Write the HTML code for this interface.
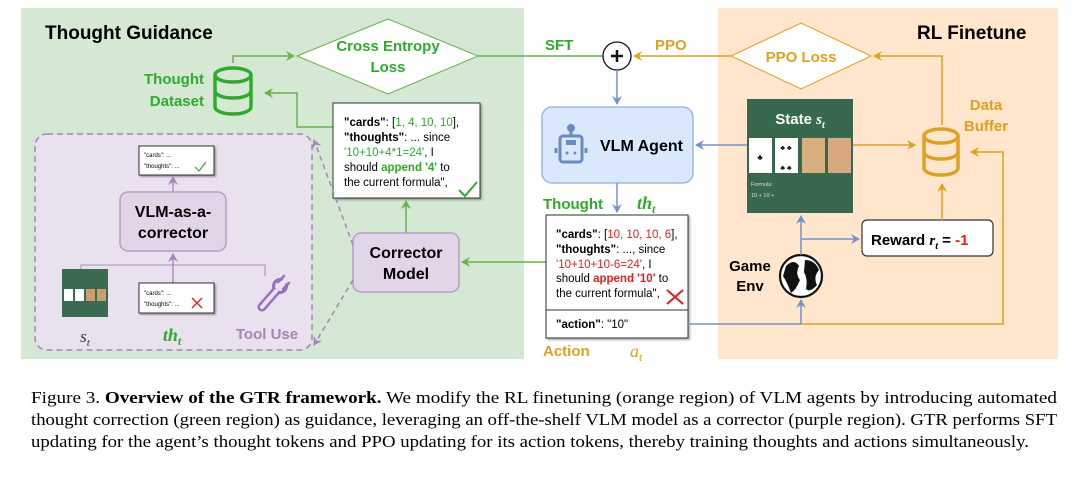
<!DOCTYPE html>
<html><head><meta charset="utf-8"><style>
html,body{margin:0;padding:0;background:#fff}
svg{display:block}
text{font-family:"Liberation Sans",sans-serif}
.b{font-weight:bold}
.serif{font-family:"Liberation Serif",serif}
</style></head><body>
<svg width="1080" height="479" viewBox="0 0 1080 479" xmlns="http://www.w3.org/2000/svg">
<defs>
<marker id="ag" markerWidth="10" markerHeight="10" refX="8" refY="5" orient="auto" markerUnits="userSpaceOnUse"><path d="M0,0 L9,5 L0,10 L3,5 z" fill="#6ab04c"/></marker>
<marker id="ao" markerWidth="10" markerHeight="10" refX="8" refY="5" orient="auto" markerUnits="userSpaceOnUse"><path d="M0,0 L9,5 L0,10 L3,5 z" fill="#e0a020"/></marker>
<marker id="ab" markerWidth="10" markerHeight="10" refX="8" refY="5" orient="auto" markerUnits="userSpaceOnUse"><path d="M0,0 L9,5 L0,10 L3,5 z" fill="#7394c8"/></marker>
<marker id="ap" markerWidth="10" markerHeight="10" refX="8" refY="5" orient="auto" markerUnits="userSpaceOnUse"><path d="M0,0 L9,5 L0,10 L3,5 z" fill="#a485b8"/></marker>
<filter id="sh"><feDropShadow dx="1.5" dy="1.5" stdDeviation="1" flood-opacity="0.35"/></filter>
</defs>
<!-- regions -->
<rect x="21" y="8" width="503" height="351" fill="#d5e8d4"/>
<rect x="718" y="8" width="340" height="351" fill="#ffe6cc"/>
<text x="45" y="39" class="b" font-size="19">Thought Guidance</text>
<text x="917" y="39" class="b" font-size="19">RL Finetune</text>

<!-- Cross entropy diamond -->
<polygon points="297,56 388,19 478,56 388,94" fill="#fff" stroke="#6ab04c" stroke-width="1"/>
<text x="388" y="51" class="b" font-size="15" fill="#2eaa2e" text-anchor="middle">Cross Entropy</text>
<text x="388" y="72" class="b" font-size="15" fill="#2eaa2e" text-anchor="middle">Loss</text>
<text x="204" y="84" class="b" font-size="15" fill="#2eaa2e" text-anchor="end">Thought</text>
<text x="204" y="106" class="b" font-size="15" fill="#2eaa2e" text-anchor="end">Dataset</text>
<!-- db green -->
<g fill="none" stroke="#2eaa2e" stroke-width="3.5">
<ellipse cx="233" cy="75" rx="18" ry="7"/>
<path d="M215,75 V107 A18,7 0 0 0 251,107 V75"/>
<path d="M215,91 A18,7 0 0 0 251,91"/>
</g>
<path d="M233,63 V56 H294" fill="none" stroke="#6ab04c" stroke-width="1.5" marker-end="url(#ag)"/>
<path d="M333,127 H297 V93 H265" fill="none" stroke="#6ab04c" stroke-width="1.5" marker-end="url(#ag)"/>
<path d="M478,56 H613" fill="none" stroke="#6ab04c" stroke-width="1.5" marker-end="url(#ag)"/>
<text x="545" y="50" class="b" font-size="15" fill="#2eaa2e">SFT</text>

<!-- cards box green -->
<rect x="333" y="103" width="147" height="95" fill="#fff" stroke="#333" stroke-width="1" filter="url(#sh)"/>
<g font-size="11.5">
<text x="344" y="126"><tspan class="b">"cards"</tspan>: [<tspan fill="#2eaa2e">1, 4, 10, 10</tspan>],</text>
<text x="344" y="141"><tspan class="b">"thoughts"</tspan>: ... since</text>
<text x="344" y="156" fill="#2eaa2e">'10+10+4*1=24'<tspan fill="#000">, I</tspan></text>
<text x="344" y="171">should <tspan fill="#2eaa2e" class="b">append '4'</tspan> to</text>
<text x="344" y="186">the current formula",</text>
</g>
<path d="M459,190 L465,196 L477,182" fill="none" stroke="#2eaa2e" stroke-width="2"/>

<!-- purple region -->
<rect x="35" y="134" width="277" height="216" rx="12" fill="#eae1ef" stroke="#a485b8" stroke-width="1.5" stroke-dasharray="6,4"/>
<rect x="139" y="146" width="75" height="29" fill="#fff" stroke="#333" filter="url(#sh)"/>
<text x="144" y="157" font-size="6">"cards": ...</text>
<text x="144" y="168" font-size="6">"thoughts": ...</text>
<path d="M195,167 L199,171 L206,162" fill="none" stroke="#2eaa2e" stroke-width="1.2"/>
<path d="M173,192 V177" stroke="#a485b8" stroke-width="1.3" marker-end="url(#ap)"/>
<rect x="120" y="192" width="106" height="59" rx="8" fill="#e1d5e7" stroke="#b89cc8" stroke-width="1.5"/>
<text x="173" y="217" class="b" font-size="16" text-anchor="middle">VLM-as-a-</text>
<text x="173" y="238" class="b" font-size="16" text-anchor="middle">corrector</text>
<path d="M81,270 V265 H265 V276" fill="none" stroke="#b89cc8" stroke-width="1.3"/>
<path d="M173,283 V254" stroke="#a485b8" stroke-width="1.3" marker-end="url(#ap)"/>
<rect x="62" y="269" width="46" height="48" fill="#3a6b50"/>
<rect x="64" y="289" width="9" height="12" fill="#fff"/><rect x="75" y="289" width="9" height="12" fill="#fff"/><rect x="86" y="289" width="9" height="12" fill="#c8a070"/><rect x="97" y="289" width="9" height="12" fill="#c8a070"/>
<rect x="139" y="283" width="75" height="30" fill="#fff" stroke="#333" filter="url(#sh)"/>
<text x="144" y="295" font-size="6">"cards": ...</text>
<text x="144" y="306" font-size="6">"thoughts": ...</text>
<path d="M192,298 L202,308 M202,298 L192,308" stroke="#e02020" stroke-width="1.3"/>
<!-- wrench (outline) -->
<g stroke-linecap="round" stroke-linejoin="round">
<path d="M262,307 L276,291" stroke="#9a70b8" stroke-width="9" fill="none"/>
<circle cx="280" cy="286" r="8" fill="#9a70b8"/>
<path d="M262,307 L276,291" stroke="#eae1ef" stroke-width="4" fill="none"/>
<circle cx="280" cy="286" r="5" fill="#eae1ef"/>
<path d="M281,285 L290,276" stroke="#eae1ef" stroke-width="5"/>
<path d="M283,289 L289,283 M278,282 L284,276" stroke="#9a70b8" stroke-width="2.5"/>
</g>
<text x="85" y="342" font-size="17" font-style="italic" class="serif" fill="#333" text-anchor="middle">s<tspan font-size="11" dy="4">t</tspan></text>
<text x="172" y="341" font-size="18" font-style="italic" class="serif b" fill="#2eaa2e" text-anchor="middle">th<tspan font-size="12" dy="4">t</tspan></text>
<text x="267" y="339" class="b" font-size="15" fill="#a485b8" text-anchor="middle">Tool Use</text>

<!-- corrector model -->
<rect x="353" y="233" width="106" height="59" rx="8" fill="#e1d5e7" stroke="#b89cc8" stroke-width="1.5"/>
<text x="406" y="258" class="b" font-size="16" text-anchor="middle">Corrector</text>
<text x="406" y="279" class="b" font-size="16" text-anchor="middle">Model</text>
<path d="M406,233 V201" stroke="#6ab04c" stroke-width="1.5" marker-end="url(#ag)"/>
<path d="M546,262 H462" stroke="#6ab04c" stroke-width="1.5" marker-end="url(#ag)"/>
<path d="M353,245 L314,140" stroke="#a485b8" stroke-width="1.5" stroke-dasharray="5,4" marker-end="url(#ap)"/>
<path d="M353,280 L314,345" stroke="#a485b8" stroke-width="1.5" stroke-dasharray="5,4" marker-end="url(#ap)"/>

<!-- plus circle -->
<circle cx="617" cy="56" r="14" fill="#fff" stroke="#111" stroke-width="1.3"/>
<path d="M611,56 H623 M617,50 V62" stroke="#111" stroke-width="2.5"/>
<text x="655" y="50" class="b" font-size="15" fill="#e0a020">PPO</text>
<polygon points="731,56 801,23 871,56 801,89" fill="#fff" stroke="#e0a020" stroke-width="1"/>
<text x="801" y="62" class="b" font-size="15" fill="#e0a020" text-anchor="middle">PPO Loss</text>
<path d="M731,56 H634" stroke="#e0a020" stroke-width="1.5" marker-end="url(#ao)"/>
<path d="M942,125 V56 H874" fill="none" stroke="#e0a020" stroke-width="1.5" marker-end="url(#ao)"/>
<path d="M617,70 V104" stroke="#7394c8" stroke-width="1.5" marker-end="url(#ab)"/>

<!-- VLM Agent -->
<rect x="542" y="107" width="151" height="76" rx="10" fill="#dae8fc" stroke="#8eb0e0" stroke-width="1.3"/>
<g fill="none" stroke="#6b8cc2" stroke-width="3">
<rect x="560" y="136" width="22" height="26" rx="3"/>
<path d="M571,136 V130"/><circle cx="571" cy="128" r="2.5" fill="#6b8cc2"/>
<path d="M556,148 V153 M586,148 V153"/>
</g>
<rect x="566" y="140" width="10" height="5" fill="#6b8cc2"/>
<circle cx="567" cy="153" r="1.5" fill="#6b8cc2"/><circle cx="575" cy="153" r="1.5" fill="#6b8cc2"/>
<text x="600" y="151" class="b" font-size="16">VLM Agent</text>

<!-- State -->
<rect x="747" y="99" width="106" height="114" fill="#38694f"/>
<text x="800" y="124" class="b" font-size="15" fill="#fff" text-anchor="middle">State <tspan class="serif" font-style="italic">s<tspan font-size="10" dy="4">t</tspan></tspan></text>
<rect x="749" y="138" width="23" height="35" fill="#fff"/>
<rect x="775" y="138" width="23" height="35" fill="#fff"/>
<rect x="802" y="138" width="23" height="35" fill="#d8b080"/>
<rect x="828" y="138" width="23" height="35" fill="#d8a880"/>
<text x="760" y="160" font-size="8" text-anchor="middle">♣</text>
<text x="786" y="150" font-size="7" text-anchor="middle">♣ ♣</text><text x="786" y="170" font-size="7" text-anchor="middle">♣ ♣</text>
<text x="751" y="186" font-size="5.5" fill="#ddd">Formula:</text>
<text x="751" y="197" font-size="5.5" fill="#ddd">10 + 10 +</text>
<path d="M747,145 H696" stroke="#7394c8" stroke-width="1.5" marker-end="url(#ab)"/>
<path d="M853,145 H915" stroke="#e0a020" stroke-width="1.5" marker-end="url(#ao)"/>

<!-- db orange -->
<g fill="none" stroke="#e0a020" stroke-width="3.5">
<ellipse cx="941" cy="136" rx="17" ry="7"/>
<path d="M924,136 V168 A17,7 0 0 0 958,168 V136"/>
<path d="M924,152 A17,7 0 0 0 958,152"/>
</g>
<text x="986" y="110" class="b" font-size="15" fill="#e0a020" text-anchor="middle">Data</text>
<text x="986" y="131" class="b" font-size="15" fill="#e0a020" text-anchor="middle">Buffer</text>

<!-- reward -->
<rect x="862" y="220" width="131" height="36" rx="5" fill="#fff" stroke="#333" stroke-width="1.2"/>
<text x="871" y="245" class="b" font-size="15">Reward <tspan class="serif" font-style="italic">r<tspan font-size="10" dy="4">t</tspan></tspan><tspan dy="-4"> = </tspan><tspan fill="#e02020">-1</tspan></text>
<path d="M942,220 V184" stroke="#e0a020" stroke-width="1.5" marker-end="url(#ao)"/>

<!-- game env -->
<text x="750" y="271" class="b" font-size="15" text-anchor="middle">Game</text>
<text x="750" y="291" class="b" font-size="15" text-anchor="middle">Env</text>
<circle cx="801" cy="276" r="21" fill="#fff" stroke="#111" stroke-width="2.2"/>
<path d="M786,266 Q794,258 799,266 Q795,274 800,280 Q796,290 791,293 Q787,282 783,276 Z M805,260 Q815,260 819,270 Q813,277 817,285 Q810,293 806,289 Q808,279 804,272 Z" fill="#111"/>
<path d="M801,255 V216" stroke="#7394c8" stroke-width="1.5" marker-end="url(#ab)"/>
<path d="M801,239 H859" stroke="#7394c8" stroke-width="1.5" marker-end="url(#ab)"/>

<!-- thought box -->
<path d="M617,183 V212" stroke="#7394c8" stroke-width="1.5" marker-end="url(#ab)"/>
<text x="543" y="209" class="b" font-size="15" fill="#2eaa2e">Thought</text>
<text x="637" y="209" font-size="18" font-style="italic" class="serif b" fill="#2eaa2e">th<tspan font-size="12" dy="4">t</tspan></text>
<rect x="546" y="215" width="142" height="123" fill="#fff" stroke="#333" stroke-width="1" filter="url(#sh)"/>
<line x1="546" y1="310" x2="688" y2="310" stroke="#333"/>
<g font-size="11.5">
<text x="556" y="238"><tspan class="b">"cards"</tspan>: [<tspan fill="#e02020">10, 10, 10, 6</tspan>],</text>
<text x="556" y="253"><tspan class="b">"thoughts"</tspan>: ..., since</text>
<text x="556" y="268" fill="#e02020">'10+10+10-6=24'<tspan fill="#000">, I</tspan></text>
<text x="556" y="282">should <tspan fill="#e02020" class="b">append '10'</tspan> to</text>
<text x="556" y="297">the current formula",</text>
<text x="556" y="328"><tspan class="b">"action"</tspan>: "10"</text>
</g>
<path d="M667,290 L683,304 M683,290 L667,304" stroke="#e02020" stroke-width="2"/>
<text x="543" y="356" class="b" font-size="15" fill="#e0a020">Action</text>
<text x="630" y="357" font-size="18" font-style="italic" class="serif" fill="#e0a020">a<tspan font-size="12" dy="4">t</tspan></text>
<path d="M801,324 H1003 V152 H971" fill="none" stroke="#e0a020" stroke-width="1.5" marker-end="url(#ao)"/>
<path d="M688,324 H801 V300" fill="none" stroke="#7394c8" stroke-width="1.5" marker-end="url(#ab)"/>

<!-- caption -->
<g font-size="17">
<text x="31" y="403" textLength="1026" lengthAdjust="spacingAndGlyphs" style="font-family:'Liberation Serif',serif">Figure 3. <tspan font-weight="bold">Overview of the GTR framework.</tspan> We modify the RL finetuning (orange region) of VLM agents by introducing automated</text>
<text x="31" y="425" textLength="1026" lengthAdjust="spacingAndGlyphs" style="font-family:'Liberation Serif',serif">thought correction (green region) as guidance, leveraging an off-the-shelf VLM model as a corrector (purple region). GTR performs SFT</text>
<text x="31" y="447" textLength="998" lengthAdjust="spacingAndGlyphs" style="font-family:'Liberation Serif',serif">updating for the agent’s thought tokens and PPO updating for its action tokens, thereby training thoughts and actions simultaneously.</text>
</g>
</svg>
</body></html>
